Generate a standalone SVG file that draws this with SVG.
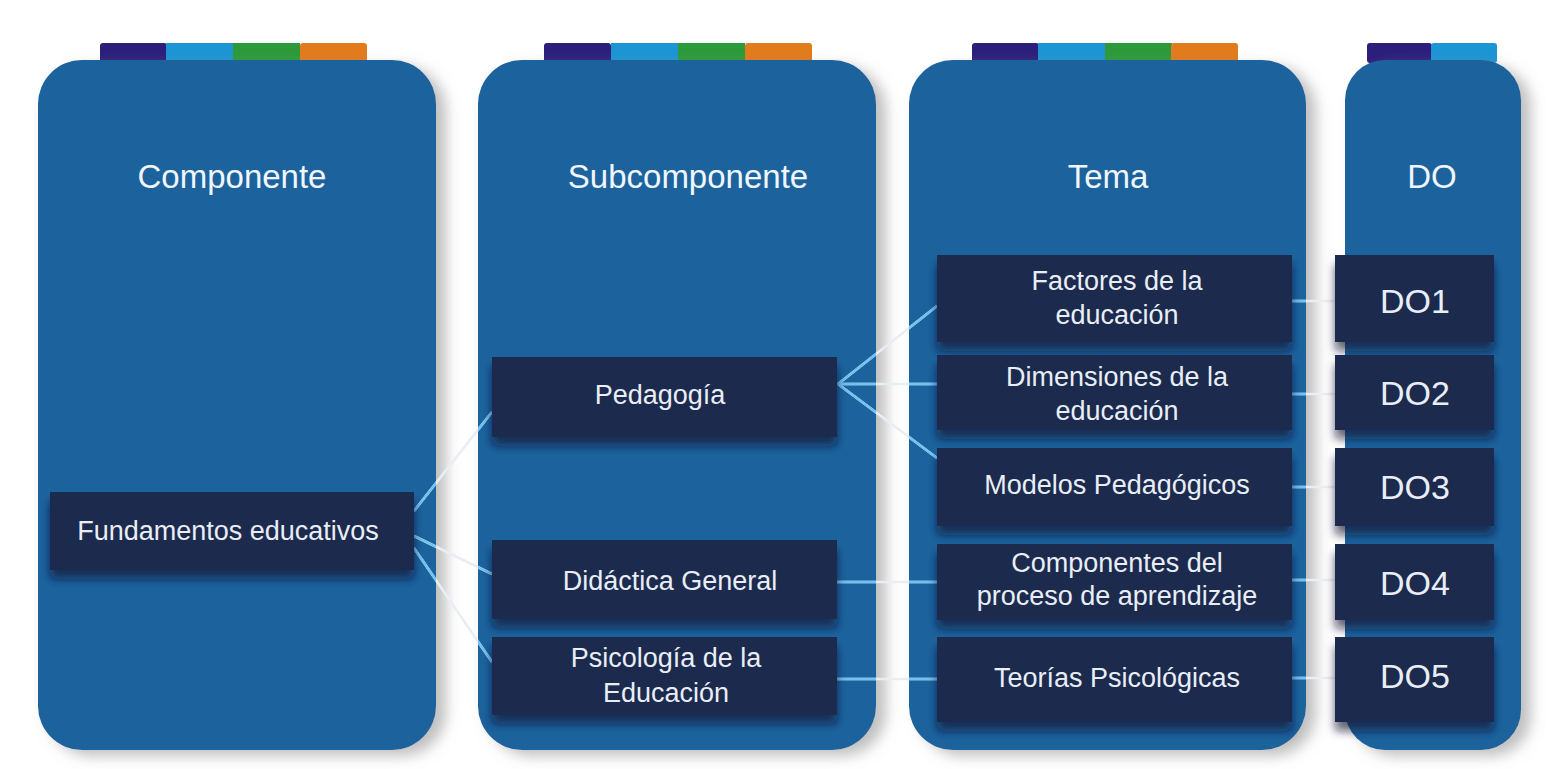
<svg xmlns="http://www.w3.org/2000/svg" width="1549" height="769" viewBox="0 0 1549 769">
  <defs>
    <filter id="colShadow" x="-10%" y="-10%" width="125%" height="125%">
      <feDropShadow dx="10" dy="6" stdDeviation="7" flood-color="#8a8a8a" flood-opacity="0.55"/>
    </filter>
    <filter id="boxShadow" x="-10%" y="-20%" width="120%" height="160%">
      <feDropShadow dx="0" dy="9" stdDeviation="5" flood-color="#0a1733" flood-opacity="0.65"/>
    </filter>
    <clipPath id="colClip">
      <rect x="38" y="60" width="398" height="690" rx="44"/>
      <rect x="478" y="60" width="398" height="690" rx="44"/>
      <rect x="909" y="60" width="397" height="690" rx="44"/>
      <rect x="1345" y="60" width="176" height="690" rx="40"/>
    </clipPath>
  </defs>
  <style>
    .col { fill: #1b639e; }
    .box { fill: #1d2a4e; filter: url(#boxShadow); }
    .head { font-family: "Liberation Sans", Arial, sans-serif; font-size: 33px; fill: #f1f6fc; text-anchor: middle; }
    .lbl { font-family: "Liberation Sans", Arial, sans-serif; font-size: 27px; fill: #e9eef6; text-anchor: middle; }
    .code { font-family: "Liberation Sans", Arial, sans-serif; font-size: 34px; fill: #e9eef6; text-anchor: middle; }
    .t1 { fill: #2c1f7c; }
    .t2 { fill: #1b95d4; }
    .t3 { fill: #2c9a3b; }
    .t4 { fill: #e27b1c; }
    .wire-back { stroke: #e8eef4; stroke-width: 2.6; fill: none; }
    .wire { stroke: #6ec3f2; stroke-width: 2.4; fill: none; }
  </style>
  <rect width="1549" height="769" fill="#ffffff"/>

  <!-- Columns -->
  <g id="col-componente">
    <rect class="t1" x="100" y="43" width="67" height="20" rx="3"/>
    <rect class="t2" x="166" y="43" width="67" height="20"/>
    <rect class="t3" x="233" y="43" width="67" height="20"/>
    <rect class="t4" x="300" y="43" width="67" height="20" rx="3"/>
    <rect class="col" x="38" y="60" width="398" height="690" rx="44" filter="url(#colShadow)"/>
    <text class="head" x="232" y="188">Componente</text>
  </g>
  <g id="col-subcomponente">
    <rect class="t1" x="544" y="43" width="67" height="20" rx="3"/>
    <rect class="t2" x="611" y="43" width="67" height="20"/>
    <rect class="t3" x="678" y="43" width="67" height="20"/>
    <rect class="t4" x="745" y="43" width="67" height="20" rx="3"/>
    <rect class="col" x="478" y="60" width="398" height="690" rx="44" filter="url(#colShadow)"/>
    <text class="head" x="688" y="188">Subcomponente</text>
  </g>
  <g id="col-tema">
    <rect class="t1" x="972" y="43" width="67" height="20" rx="3"/>
    <rect class="t2" x="1038" y="43" width="67" height="20"/>
    <rect class="t3" x="1105" y="43" width="67" height="20"/>
    <rect class="t4" x="1171" y="43" width="67" height="20" rx="3"/>
    <rect class="col" x="909" y="60" width="397" height="690" rx="44" filter="url(#colShadow)"/>
    <text class="head" x="1108" y="188">Tema</text>
  </g>
  <g id="col-do">
    <rect class="t1" x="1367" y="43" width="65" height="20" rx="3"/>
    <rect class="t2" x="1431" y="43" width="66" height="20" rx="3"/>
    <rect class="col" x="1345" y="60" width="176" height="690" rx="40" filter="url(#colShadow)"/>
    <text class="head" x="1432" y="188">DO</text>
  </g>

  <!-- Connectors -->
  <g id="connectors">
    <g>
      <path class="wire-back" d="M414,511 L492,412 M414,536 L492,574 M414,548 L492,662 M838,384 L937,306 M838,384 L937,384 M838,384 L937,458 M837,582 L937,582 M837,679 L937,679 M1292,301 L1335,301 M1292,394 L1335,394 M1292,487 L1335,487 M1292,580 L1335,580 M1292,678 L1335,678"/>
    </g>
    <g clip-path="url(#colClip)">
      <path class="wire" d="M414,511 L492,412 M414,536 L492,574 M414,548 L492,662 M838,384 L937,306 M838,384 L937,384 M838,384 L937,458 M837,582 L937,582 M837,679 L937,679 M1292,301 L1335,301 M1292,394 L1335,394 M1292,487 L1335,487 M1292,580 L1335,580 M1292,678 L1335,678"/>
    </g>
  </g>

  <!-- Componente node -->
  <g id="n-fundamentos">
    <rect class="box" x="50" y="492" width="364" height="78"/>
    <text class="lbl" x="228" y="540">Fundamentos educativos</text>
  </g>

  <!-- Subcomponente nodes -->
  <g id="n-pedagogia">
    <rect class="box" x="492" y="357" width="345" height="80"/>
    <text class="lbl" x="660" y="404">Pedagogía</text>
  </g>
  <g id="n-didactica">
    <rect class="box" x="492" y="540" width="345" height="79"/>
    <text class="lbl" x="670" y="590">Didáctica General</text>
  </g>
  <g id="n-psicologia">
    <rect class="box" x="492" y="637" width="345" height="78"/>
    <text class="lbl" x="666" y="667">Psicología de la</text>
    <text class="lbl" x="666" y="702">Educación</text>
  </g>

  <!-- Tema nodes -->
  <g id="n-factores">
    <rect class="box" x="937" y="255" width="355" height="87"/>
    <text class="lbl" x="1117" y="290">Factores de la</text>
    <text class="lbl" x="1117" y="324">educación</text>
  </g>
  <g id="n-dimensiones">
    <rect class="box" x="937" y="355" width="355" height="75"/>
    <text class="lbl" x="1117" y="386">Dimensiones de la</text>
    <text class="lbl" x="1117" y="420">educación</text>
  </g>
  <g id="n-modelos">
    <rect class="box" x="937" y="448" width="355" height="78"/>
    <text class="lbl" x="1117" y="494">Modelos Pedagógicos</text>
  </g>
  <g id="n-componentes">
    <rect class="box" x="937" y="544" width="355" height="76"/>
    <text class="lbl" x="1117" y="572">Componentes del</text>
    <text class="lbl" x="1117" y="605">proceso de aprendizaje</text>
  </g>
  <g id="n-teorias">
    <rect class="box" x="937" y="637" width="355" height="85"/>
    <text class="lbl" x="1117" y="687">Teorías Psicológicas</text>
  </g>

  <!-- DO nodes -->
  <g id="n-do1">
    <rect class="box" x="1335" y="255" width="159" height="87"/>
    <text class="code" x="1415" y="313">DO1</text>
  </g>
  <g id="n-do2">
    <rect class="box" x="1335" y="355" width="159" height="75"/>
    <text class="code" x="1415" y="405">DO2</text>
  </g>
  <g id="n-do3">
    <rect class="box" x="1335" y="448" width="159" height="78"/>
    <text class="code" x="1415" y="499">DO3</text>
  </g>
  <g id="n-do4">
    <rect class="box" x="1335" y="544" width="159" height="76"/>
    <text class="code" x="1415" y="595">DO4</text>
  </g>
  <g id="n-do5">
    <rect class="box" x="1335" y="637" width="159" height="85"/>
    <text class="code" x="1415" y="688">DO5</text>
  </g>
</svg>
